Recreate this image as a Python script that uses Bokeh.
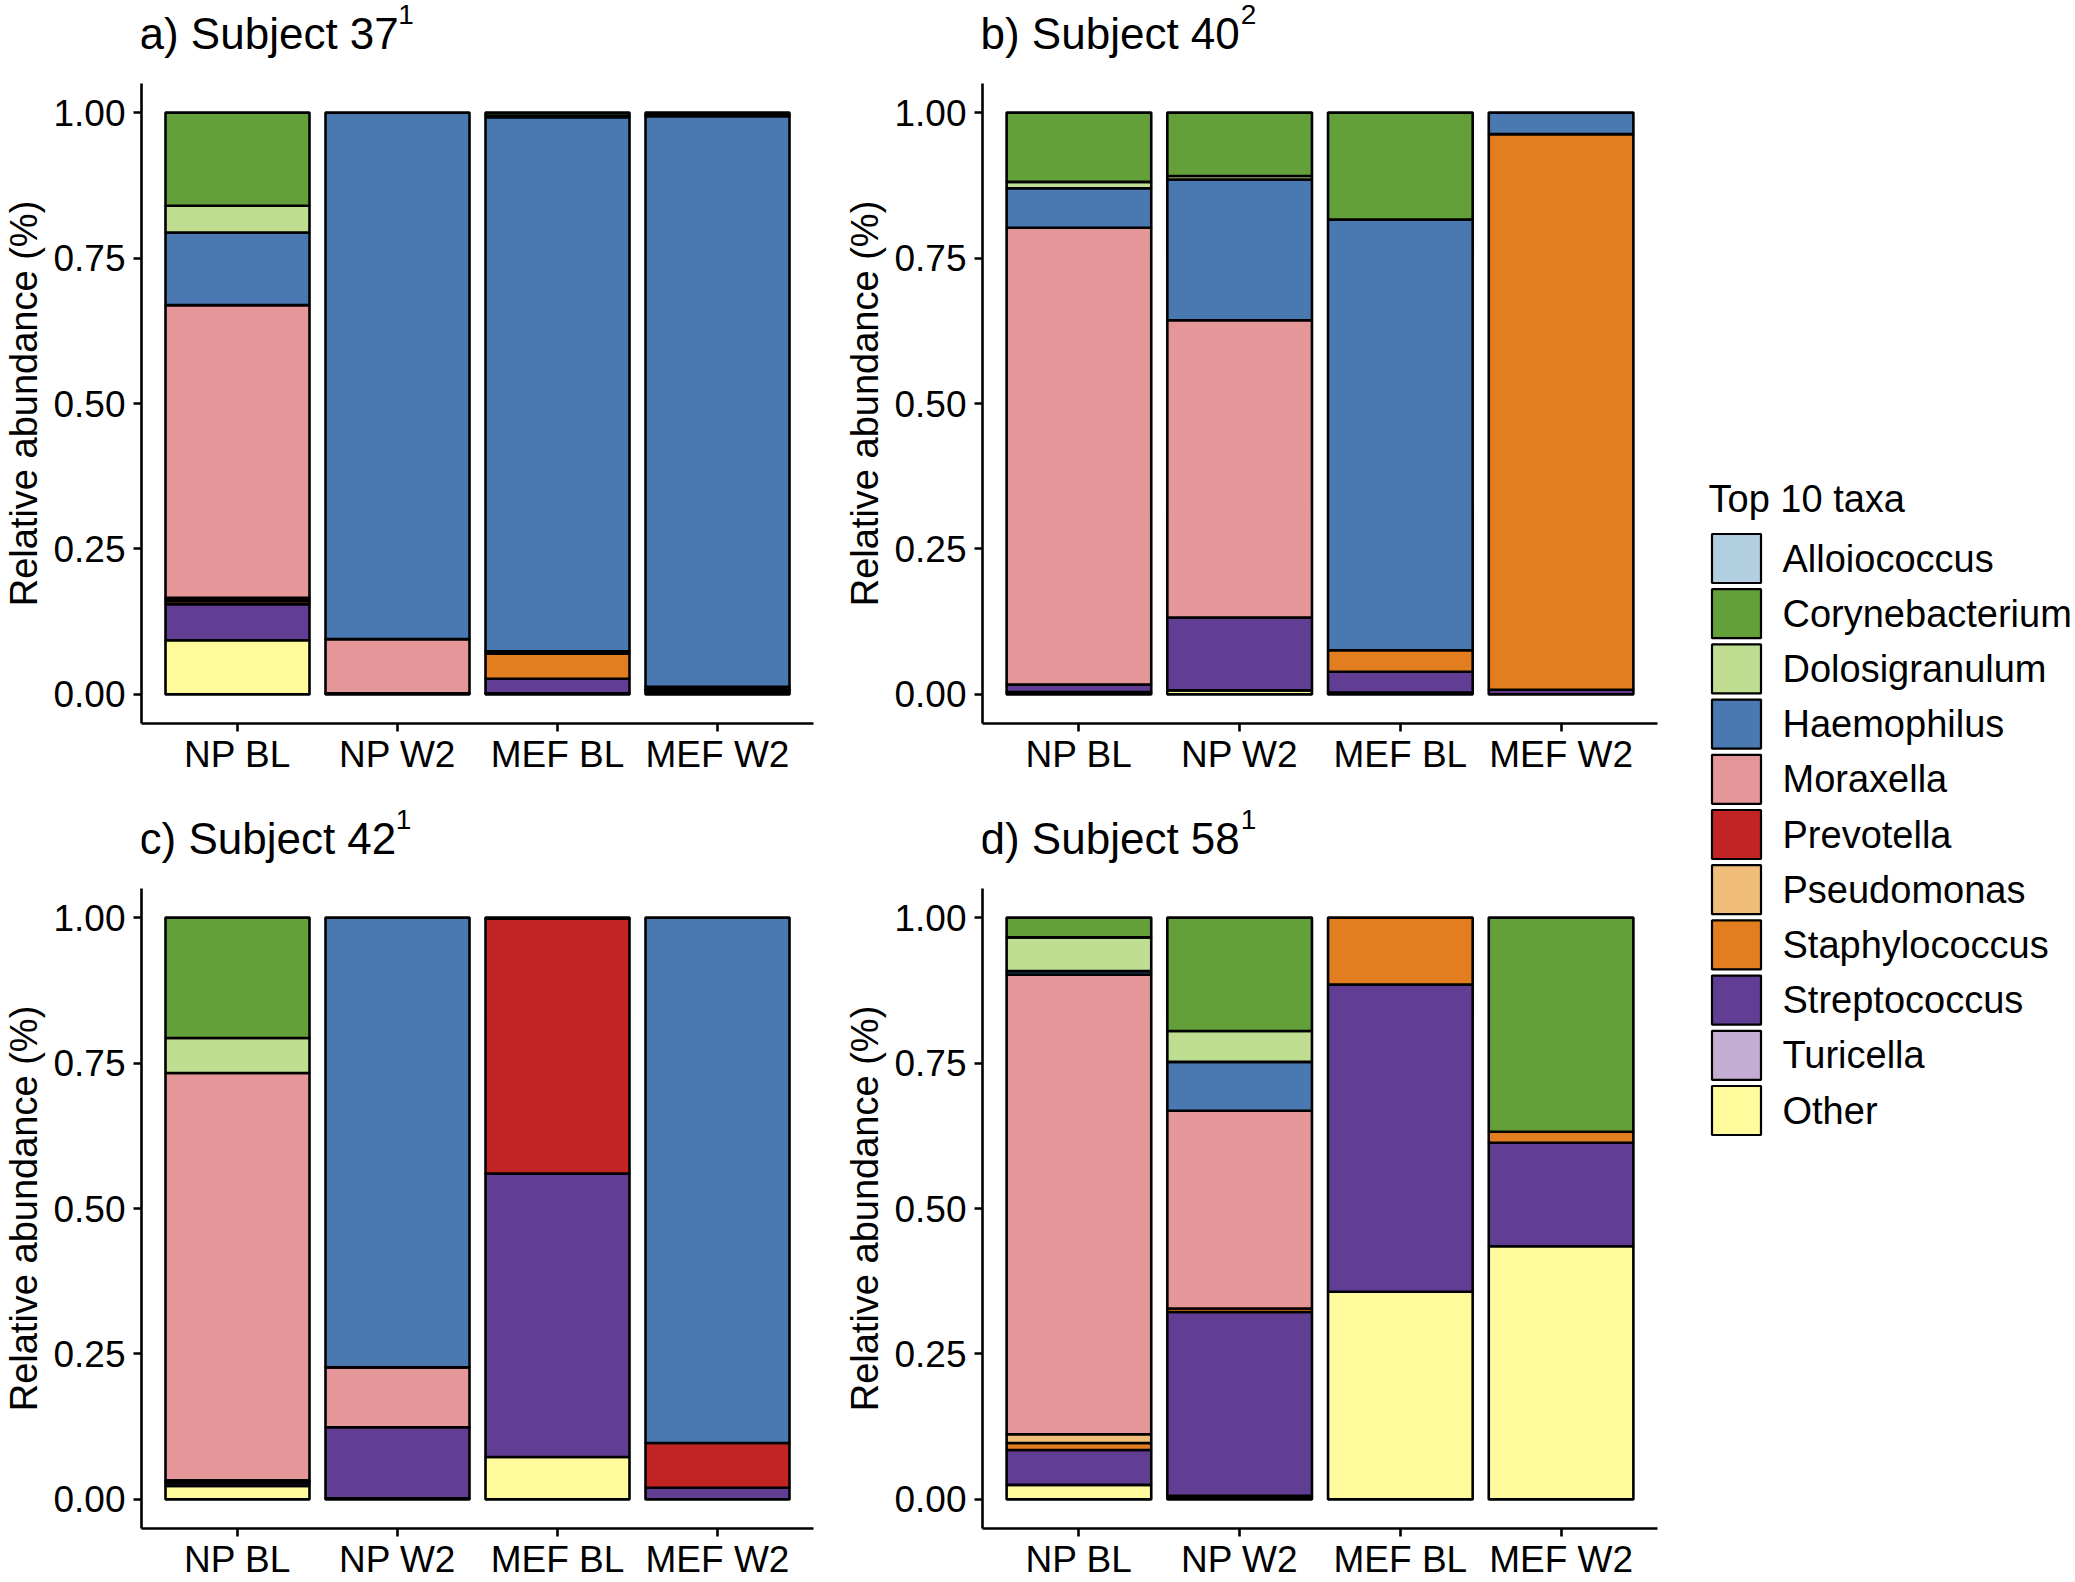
from bokeh.plotting import figure
from bokeh.models import Range1d, FactorRange, FixedTicker, PrintfTickFormatter
from bokeh.layouts import row, column
from bokeh.embed import file_html
from bokeh.resources import INLINE
from bokeh.core.properties import value

# ---- data -----------------------------------------------------------------
samples = ["NP BL", "NP W2", "MEF BL", "MEF W2"]

taxa = ["Alloiococcus", "Corynebacterium", "Dolosigranulum", "Haemophilus",
        "Moraxella", "Prevotella", "Pseudomonas", "Staphylococcus",
        "Streptococcus", "Turicella", "Other"]

taxa_colors = ["#B2CEE1", "#64A03A", "#BFDE91", "#4A78B0",
               "#E49698", "#C22424", "#F0BE78", "#E27D20",
               "#613E94", "#C3ADD2", "#FFFA9B"]

y_ticks = [0.0, 0.25, 0.5, 0.75, 1.0]

# relative abundance per sample, in the order of `samples`
subject_37 = {
    "Alloiococcus":    [0.000, 0.000, 0.000, 0.000],
    "Corynebacterium": [0.160, 0.000, 0.005, 0.004],
    "Dolosigranulum":  [0.046, 0.000, 0.003, 0.002],
    "Haemophilus":     [0.125, 0.905, 0.918, 0.981],
    "Moraxella":       [0.503, 0.093, 0.004, 0.004],
    "Prevotella":      [0.003, 0.000, 0.000, 0.000],
    "Pseudomonas":     [0.003, 0.000, 0.000, 0.000],
    "Staphylococcus":  [0.005, 0.000, 0.043, 0.002],
    "Streptococcus":   [0.062, 0.000, 0.025, 0.004],
    "Turicella":       [0.000, 0.000, 0.000, 0.000],
    "Other":           [0.093, 0.002, 0.002, 0.003],
}

subject_40 = {
    "Alloiococcus":    [0.000, 0.000, 0.000, 0.000],
    "Corynebacterium": [0.119, 0.109, 0.184, 0.000],
    "Dolosigranulum":  [0.011, 0.006, 0.000, 0.000],
    "Haemophilus":     [0.068, 0.242, 0.740, 0.037],
    "Moraxella":       [0.785, 0.511, 0.000, 0.000],
    "Prevotella":      [0.000, 0.000, 0.000, 0.000],
    "Pseudomonas":     [0.000, 0.000, 0.000, 0.000],
    "Staphylococcus":  [0.000, 0.000, 0.037, 0.955],
    "Streptococcus":   [0.013, 0.125, 0.036, 0.008],
    "Turicella":       [0.000, 0.000, 0.000, 0.000],
    "Other":           [0.004, 0.007, 0.003, 0.000],
}

subject_42 = {
    "Alloiococcus":    [0.000, 0.000, 0.000, 0.000],
    "Corynebacterium": [0.207, 0.000, 0.000, 0.000],
    "Dolosigranulum":  [0.060, 0.000, 0.000, 0.000],
    "Haemophilus":     [0.000, 0.773, 0.002, 0.903],
    "Moraxella":       [0.700, 0.103, 0.000, 0.000],
    "Prevotella":      [0.000, 0.000, 0.438, 0.077],
    "Pseudomonas":     [0.002, 0.000, 0.000, 0.000],
    "Staphylococcus":  [0.003, 0.000, 0.000, 0.000],
    "Streptococcus":   [0.005, 0.122, 0.487, 0.020],
    "Turicella":       [0.000, 0.000, 0.000, 0.000],
    "Other":           [0.023, 0.002, 0.073, 0.000],
}

subject_58 = {
    "Alloiococcus":    [0.000, 0.000, 0.000, 0.000],
    "Corynebacterium": [0.034, 0.195, 0.000, 0.368],
    "Dolosigranulum":  [0.058, 0.053, 0.000, 0.000],
    "Haemophilus":     [0.006, 0.084, 0.000, 0.000],
    "Moraxella":       [0.790, 0.340, 0.000, 0.000],
    "Prevotella":      [0.000, 0.000, 0.000, 0.000],
    "Pseudomonas":     [0.015, 0.000, 0.000, 0.000],
    "Staphylococcus":  [0.012, 0.006, 0.115, 0.019],
    "Streptococcus":   [0.060, 0.316, 0.528, 0.178],
    "Turicella":       [0.000, 0.002, 0.000, 0.000],
    "Other":           [0.025, 0.004, 0.357, 0.435],
}

panel_titles = ["a) Subject 37", "b) Subject 40", "c) Subject 42", "d) Subject 58"]
panel_marks = ["1", "2", "1", "1"]

# ---- styling --------------------------------------------------------------
FONT = "Liberation Sans"
TICK_SIZE = "37px"
TITLE_PX = 44
FRAME_H = 640

# Arial/Liberation Sans advance widths (em) for the characters in the titles
ADV = {"a": .556, "b": .556, "c": .5, "d": .556, ")": .333, " ": .278,
       "S": .667, "u": .556, "j": .222, "e": .556, "t": .278}


def text_width(s, px):
    return sum(ADV.get(ch, .556) for ch in s) * px


def blank(width, height, left=0, right=0):
    # data coordinates equal canvas pixels (y grows downward)
    f = figure(width=width, height=height,
               x_range=Range1d(left, width - right), y_range=Range1d(height, 0),
               output_backend="svg", toolbar_location=None,
               min_border_left=left, min_border_right=right,
               min_border_top=0, min_border_bottom=0)
    f.axis.visible = False
    f.grid.visible = False
    f.outline_line_color = None
    return f


def title_strip(title, mark, width, height, left, right, x_left, baseline):
    t = blank(width, height, left, right)
    t.text(x=[x_left], y=[baseline], text=[title],
           text_font=value(FONT), text_font_size=value(f"{TITLE_PX}px"),
           text_baseline="alphabetic", text_align="left", text_color="black")
    t.text(x=[x_left + text_width(title, TITLE_PX) + 1], y=[baseline - 19],
           text=[mark], text_font=value(FONT), text_font_size=value("28px"),
           text_baseline="alphabetic", text_align="left", text_color="black")
    return t


def panel(data, width, height, left, right, bottom):
    p = figure(width=width, height=height,
               x_range=FactorRange(factors=samples, range_padding=0.05,
                                   range_padding_units="percent"),
               y_range=Range1d(-0.05, 1.05),
               output_backend="svg", toolbar_location=None,
               min_border_left=left, min_border_right=right,
               min_border_top=0, min_border_bottom=bottom)
    p.outline_line_color = None
    p.xgrid.visible = False
    p.ygrid.visible = False

    # stacked bars: first taxon on top, "Other" at the bottom
    cum = [0.0] * len(samples)
    for name, color in reversed(list(zip(taxa, taxa_colors))):
        vals = data[name]
        xs, bots, tops = [], [], []
        for i, v in enumerate(vals):
            if v > 0:
                xs.append(samples[i])
                bots.append(cum[i])
                tops.append(cum[i] + v)
            cum[i] += v
        if xs:
            p.vbar(x=xs, bottom=bots, top=tops, width=0.9,
                   fill_color=color, line_color="black", line_width=2.6)

    for ax in (p.xaxis, p.yaxis):
        ax.axis_line_width = 2.6
        ax.axis_line_color = "black"
        ax.major_tick_line_width = 2.6
        ax.major_tick_line_color = "black"
        ax.major_tick_out = 8
        ax.major_tick_in = 0
        ax.minor_tick_line_color = None
        ax.major_label_text_font = FONT
        ax.major_label_text_font_size = TICK_SIZE
        ax.major_label_text_color = "black"
    p.xaxis.major_label_standoff = 2
    p.yaxis.major_label_standoff = 8
    p.yaxis.ticker = FixedTicker(ticks=y_ticks)
    p.yaxis.formatter = PrintfTickFormatter(format="%.2f")
    p.yaxis.axis_label = "Relative abundance (%)"
    p.yaxis.axis_label_text_font = FONT
    p.yaxis.axis_label_text_font_size = "38px"
    p.yaxis.axis_label_text_font_style = "normal"
    p.yaxis.axis_label_text_color = "black"
    p.yaxis.axis_label_standoff = 5
    return p


datasets = [subject_37, subject_40, subject_42, subject_58]

TOP_T, BOT_T = 83, 110          # title strip heights (top / bottom row)
TOP_H, BOT_H = 695, 694         # panel heights below each strip
LA, RA, LB, RB = 137, 17, 152, 23   # side borders of left / right panels

ta = title_strip(panel_titles[0], panel_marks[0], 830, TOP_T, LA, RA, 135, 33)
tb = title_strip(panel_titles[1], panel_marks[1], 850, TOP_T, LB, RB, 150, 33)
tc = title_strip(panel_titles[2], panel_marks[2], 830, BOT_T, LA, RA, 135, BOT_T - 50)
td = title_strip(panel_titles[3], panel_marks[3], 850, BOT_T, LB, RB, 150, BOT_T - 50)

pa = panel(datasets[0], 830, TOP_H, LA, RA, TOP_H - FRAME_H)
pb = panel(datasets[1], 850, TOP_H, LB, RB, TOP_H - FRAME_H)
pc = panel(datasets[2], 830, BOT_H, LA, RA, BOT_H - FRAME_H)
pd = panel(datasets[3], 850, BOT_H, LB, RB, BOT_H - FRAME_H)

# ---- legend ----------------------------------------------------------------
leg = blank(395, 1582)
pitch = 55.2
key_cy = [558 + pitch * i for i in range(len(taxa))]
leg.rect(x=[56] * len(taxa), y=key_cy, width=49, height=49,
         fill_color=taxa_colors, line_color="black", line_width=2.2)
leg.text(x=[102] * len(taxa), y=key_cy, text=taxa,
         text_font=value(FONT), text_font_size=value("38px"),
         text_baseline="middle", text_align="left", text_color="black")
leg.text(x=[28], y=[498], text=["Top 10 taxa"],
         text_font=value(FONT), text_font_size=value("38px"),
         text_baseline="middle", text_align="left", text_color="black")

left_block = column(row(column(ta, pa), column(tb, pb)),
                    row(column(tc, pc), column(td, pd)))
layout = row(left_block, leg)

open("out.html", "w").write(file_html(layout, INLINE))
